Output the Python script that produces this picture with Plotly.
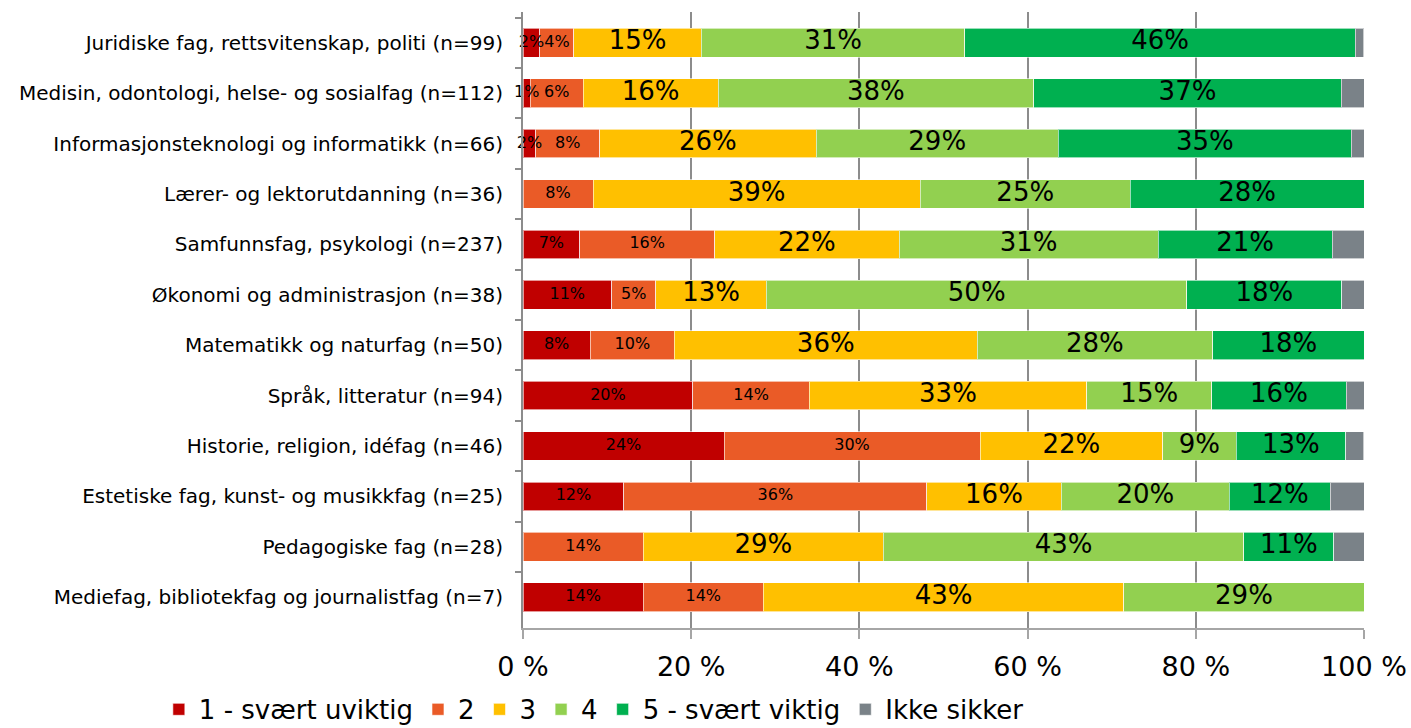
import plotly.graph_objects as go

categories = [
    "Juridiske fag, rettsvitenskap, politi (n=99)",
    "Medisin, odontologi, helse- og sosialfag (n=112)",
    "Informasjonsteknologi og informatikk (n=66)",
    "Lærer- og lektorutdanning (n=36)",
    "Samfunnsfag, psykologi (n=237)",
    "Økonomi og administrasjon (n=38)",
    "Matematikk og naturfag (n=50)",
    "Språk, litteratur (n=94)",
    "Historie, religion, idéfag (n=46)",
    "Estetiske fag, kunst- og musikkfag (n=25)",
    "Pedagogiske fag (n=28)",
    "Mediefag, bibliotekfag og journalistfag (n=7)",
]

# Share of respondents (%) per answer option
svaert_uviktig = [2.02, 0.89, 1.52, 0.0, 6.75, 10.53, 8.0, 20.21, 23.91, 12.0, 0.0, 14.29]
svar_2 = [4.04, 6.25, 7.58, 8.33, 16.03, 5.26, 10.0, 13.83, 30.43, 36.0, 14.29, 14.29]
svar_3 = [15.15, 16.07, 25.76, 38.89, 21.94, 13.16, 36.0, 32.98, 21.74, 16.0, 28.57, 42.86]
svar_4 = [31.31, 37.5, 28.79, 25.0, 30.8, 50.0, 28.0, 14.89, 8.7, 20.0, 42.86, 28.57]
svaert_viktig = [46.46, 36.61, 34.85, 27.78, 20.68, 18.42, 18.0, 15.96, 13.04, 12.0, 10.71, 0.0]
ikke_sikker = [1.01, 2.68, 1.52, 0.0, 3.8, 2.63, 0.0, 2.13, 2.17, 4.0, 3.57, 0.0]

series_names = ["1 - svært uviktig", "2", "3", "4", "5 - svært viktig", "Ikke sikker"]
series_values = [svaert_uviktig, svar_2, svar_3, svar_4, svaert_viktig, ikke_sikker]
series_colors = ["#C00000", "#EA5B27", "#FFC000", "#92D050", "#00B050", "#7A8288"]
label_sizes = [16, 16, 26, 26, 26, None]  # None: segment carries no label

FONT = "DejaVu Sans"

fig = go.Figure()

# Stacked bar segments
for name, vals, color in zip(series_names, series_values, series_colors):
    fig.add_trace(go.Bar(
        name=name,
        y=categories,
        x=vals,
        orientation="h",
        marker=dict(color=color, line=dict(color="rgba(255,255,255,0.6)", width=1)),
        textposition="none",
        hovertemplate="%{y}<br>" + name + ": %{x:.1f}%<extra></extra>",
    ))

# Percentage labels centred in each segment (not shrunk to the segment width)
cumulative = [0.0] * len(categories)
for name, vals, size in zip(series_names, series_values, label_sizes):
    mids, cats, texts = [], [], []
    for i, v in enumerate(vals):
        if size is not None and v > 0:
            mids.append(cumulative[i] + v / 2)
            cats.append(categories[i])
            texts.append(f"{v:.0f}%")
        cumulative[i] += v
    if size is None:
        continue
    fig.add_trace(go.Scatter(
        x=mids,
        y=cats,
        mode="text",
        text=texts,
        textposition="middle center",
        textfont=dict(family=FONT, size=size, color="black"),
        showlegend=False,
        hoverinfo="skip",
        cliponaxis=False,
    ))

fig.update_layout(
    barmode="stack",
    bargap=0.43,
    width=1411,
    height=728,
    margin=dict(l=523, r=47, t=12, b=100, autoexpand=False),
    paper_bgcolor="white",
    plot_bgcolor="white",
    font=dict(family=FONT, color="black"),
    showlegend=True,
    legend=dict(
        orientation="h",
        x=-0.433, xanchor="left",
        y=-0.094, yanchor="top",
        font=dict(family=FONT, size=26),
        traceorder="normal",
        itemwidth=30,
        tracegroupgap=0,
    ),
)

fig.update_xaxes(
    range=[0, 100],
    tickvals=[0, 20, 40, 60, 80, 100],
    ticktext=["0 %", "20 %", "40 %", "60 %", "80 %", "100 %"],
    showgrid=True,
    gridcolor="#8C8C8C",
    gridwidth=2,
    showline=True,
    linecolor="#A6A6A6",
    linewidth=2,
    ticks="outside",
    ticklen=9,
    tickwidth=2,
    tickcolor="#A6A6A6",
    ticklabelstandoff=5,
    tickfont=dict(family=FONT, size=27, color="black"),
    zeroline=False,
    automargin=False,
    fixedrange=True,
)

fig.update_yaxes(
    categoryorder="array",
    categoryarray=categories,
    autorange="reversed",
    showline=True,
    linecolor="#8C8C8C",
    linewidth=2,
    ticks="outside",
    tickson="boundaries",
    ticklen=6,
    tickwidth=2,
    tickcolor="#8C8C8C",
    ticklabelstandoff=14,
    tickfont=dict(family=FONT, size=20, color="black"),
    automargin=False,
    fixedrange=True,
)

fig.write_html("out.html")
